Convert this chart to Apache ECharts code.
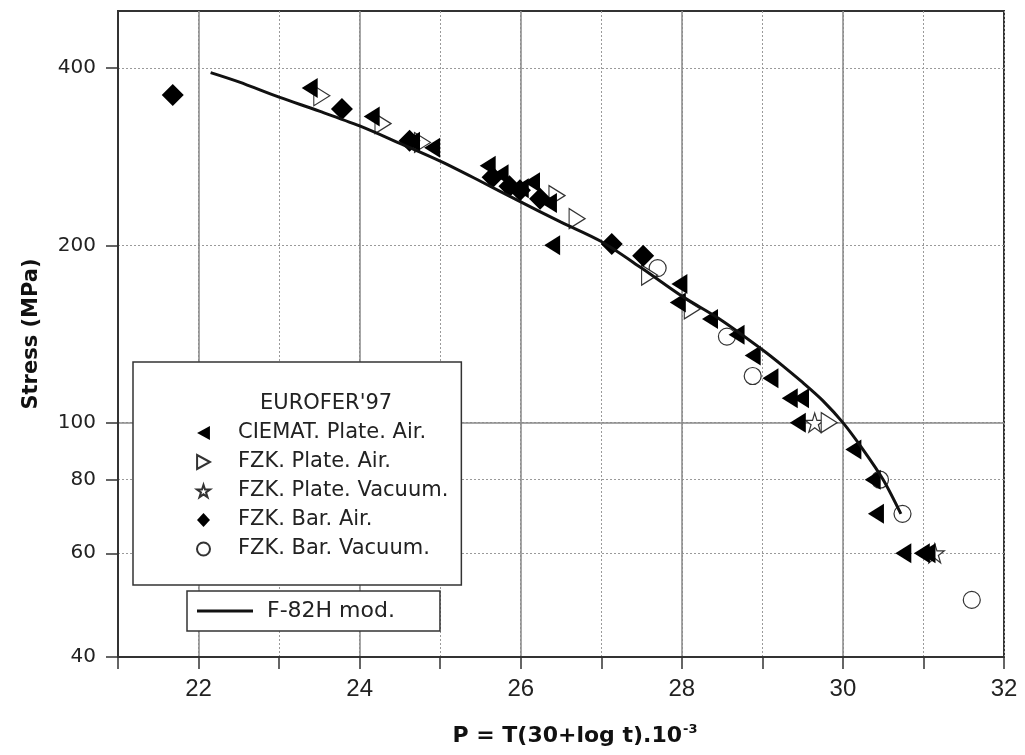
<!DOCTYPE html>
<html>
<head>
<meta charset="utf-8">
<title>Stress vs Larson-Miller parameter</title>
<script src="https://cdn.jsdelivr.net/npm/echarts@6/dist/echarts.min.js"></script>
<style>
  html, body { margin: 0; padding: 0; background: #fff; }
  #chart { width: 1025px; height: 755px; }
</style>
</head>
<body>
<div id="chart"></div>
<script>
// EUROFER'97 creep data, P = T(30+log t)*1e-3 vs stress (MPa)
const ciematP = [23.38, 24.15, 24.65, 24.9, 25.59, 25.75, 26.0, 26.14, 26.35, 26.39, 27.95, 27.97, 28.35, 28.68, 28.88, 29.1, 29.34, 29.48, 29.44, 30.13, 30.37, 30.41, 30.75, 30.98, 31.05]
const ciematS = [370, 331, 300, 293, 273, 264, 250, 256, 236, 200, 160, 172, 150, 141, 130, 119, 110, 110, 100, 90, 80, 70, 60, 60, 60]

const plateAirP = [23.53, 24.29, 24.78, 26.45, 26.7, 27.6, 28.13, 29.83]
const plateAirS = [359, 322, 299, 243, 222, 178, 156, 100]

const plateVacP = [29.65, 31.14]
const plateVacS = [100, 60]

const barAirP = [21.68, 23.78, 24.62, 25.65, 25.86, 25.99, 26.24, 27.13, 27.52]
const barAirS = [360, 341, 301, 261, 252, 248, 240, 201, 192]

const barVacP = [27.7, 28.56, 28.88, 30.46, 30.74, 31.6]
const barVacS = [183, 140, 120, 80, 70, 50]

// F-82H mod. master curve
const curveP = [22.15, 22.5, 23, 23.5, 24, 24.5, 25, 25.5, 26, 26.5, 27, 27.5, 28, 28.5, 29, 29.25, 29.5, 29.75, 30, 30.25, 30.5, 30.72]
const curveS = [393, 379, 357, 338, 319, 298, 278, 257, 237, 219, 203, 183, 164, 149, 133, 125, 117, 109, 100, 90, 80, 70]

const yTicks = [40, 60, 80, 100, 200, 400]
const xSolid = [22, 24, 26, 28, 30]

const pair = (xs, ys) => xs.map((x, i) => [x, ys[i]])

const FONT = 'DejaVu Sans'
const STAR = 'path://M50,2 L61,36 L97,36 L68,57 L79,92 L50,71 L21,92 L32,57 L3,36 L39,36 Z'
const TRI_LEFT = 'path://M0,6 L11,0 L11,12 Z'
const TRI_RIGHT = 'path://M11,6 L0,0 L0,12 Z'

const openStyle = { color: '#fff', borderColor: '#333', borderWidth: 1.2, opacity: 1 }
const solidStyle = { color: '#000', opacity: 1 }

const chart = echarts.init(document.getElementById('chart'), null, { renderer: 'canvas' })

chart.setOption({
  backgroundColor: '#fff',
  animation: false,
  grid: {
    left: 118,
    right: 21,
    top: 11,
    bottom: 98,
    show: true,
    borderColor: '#333',
    borderWidth: 2,
    backgroundColor: 'transparent'
  },
  xAxis: [
    {
      type: 'value',
      min: 21,
      max: 32,
      interval: 1,
      name: '{b|P = T(30+log t).10}{s|-3}',
      nameLocation: 'middle',
      nameGap: 66,
      nameTextStyle: {
        padding: [0, 0, 0, 28],
        rich: {
          b: { fontFamily: FONT, fontSize: 22, fontWeight: 'bold', color: '#111' },
          s: { fontFamily: FONT, fontSize: 13, fontWeight: 'bold', color: '#111', padding: [0, 0, 14, 1] }
        }
      },
      axisLine: { lineStyle: { color: '#333', width: 2 } },
      axisTick: { inside: false, length: 12, lineStyle: { color: '#333', width: 1.5 } },
      axisLabel: {
        margin: 20,
        fontFamily: 'Liberation Sans Narrow, Liberation Sans',
        fontSize: 24,
        color: '#222',
        formatter: (v) => (v % 2 === 0 ? String(v) : '')
      },
      splitLine: { show: true, lineStyle: { color: '#9a9a9a', width: 1, type: [2, 2] } }
    },
    {
      // solid grid lines at even values
      type: 'value',
      min: 21,
      max: 32,
      position: 'bottom',
      axisLine: { show: false },
      axisLabel: { show: false },
      axisTick: { show: false, customValues: xSolid },
      splitLine: { show: true, lineStyle: { color: '#888', width: 1.5 } }
    }
  ],
  yAxis: [
    {
      type: 'log',
      logBase: 10,
      min: 40,
      max: 500,
      name: 'Stress (MPa)',
      nameLocation: 'middle',
      nameGap: 76,
      nameTextStyle: { fontFamily: FONT, fontSize: 21, fontWeight: 'bold', color: '#111' },
      axisLine: { lineStyle: { color: '#333', width: 2 } },
      axisTick: { inside: false, length: 12, customValues: yTicks, lineStyle: { color: '#333', width: 1.5 } },
      axisLabel: {
        margin: 22,
        fontFamily: FONT,
        fontSize: 20,
        color: '#222',
        customValues: yTicks,
        formatter: (v) => String(Math.round(v))
      },
      splitLine: { show: true, lineStyle: { color: '#9a9a9a', width: 1, type: [2, 2] } }
    },
    {
      // solid grid line at 100 MPa
      type: 'log',
      logBase: 10,
      min: 40,
      max: 500,
      position: 'left',
      axisLine: { show: false },
      axisLabel: { show: false },
      axisTick: { show: false, customValues: [100] },
      splitLine: { show: true, lineStyle: { color: '#888', width: 1.5 } }
    }
  ],
  legend: [
    {
      orient: 'vertical',
      left: 133,
      top: 362,
      padding: [60, 13, 25, 63],
      itemWidth: 13,
      itemHeight: 14,
      itemGap: 7,
      backgroundColor: '#fff',
      borderColor: '#333',
      borderWidth: 1.5,
      textStyle: { fontFamily: FONT, fontSize: 21, color: '#222', lineHeight: 22, padding: [0, 0, 0, 23] },
      data: [
        { name: 'CIEMAT. Plate. Air.', icon: TRI_LEFT },
        { name: 'FZK. Plate. Air.', icon: TRI_RIGHT },
        { name: 'FZK. Plate. Vacuum.', icon: STAR },
        { name: 'FZK. Bar. Air.', icon: 'diamond' },
        { name: 'FZK. Bar. Vacuum.', icon: 'circle' }
      ]
    },
    {
      orient: 'vertical',
      left: 187,
      top: 591,
      padding: [9, 45, 9, 10],
      itemWidth: 56,
      itemHeight: 3,
      backgroundColor: '#fff',
      borderColor: '#333',
      borderWidth: 1.5,
      textStyle: { fontFamily: FONT, fontSize: 22, color: '#222', lineHeight: 22, padding: [0, 0, 0, 9] },
      data: [{ name: 'F-82H mod.', icon: 'rect' }]
    }
  ],
  graphic: [
    {
      type: 'text',
      z: 100,
      left: 260,
      top: 393,
      style: { text: "EUROFER'97", fontFamily: FONT, fontSize: 21, fill: '#222' }
    }
  ],
  series: [
    {
      name: 'F-82H mod.',
      type: 'line',
      smooth: 0.3,
      symbol: 'none',
      lineStyle: { color: '#111', width: 3 },
      itemStyle: { color: '#111' },
      data: pair(curveP, curveS),
      z: 3
    },
    {
      name: 'FZK. Bar. Vacuum.',
      type: 'scatter',
      symbol: 'circle',
      symbolSize: 17,
      itemStyle: openStyle,
      data: pair(barVacP, barVacS)
    },
    {
      name: 'FZK. Plate. Vacuum.',
      type: 'scatter',
      symbol: STAR,
      symbolSize: 19,
      itemStyle: openStyle,
      data: pair(plateVacP, plateVacS)
    },
    {
      name: 'FZK. Plate. Air.',
      type: 'scatter',
      symbol: 'triangle',
      symbolRotate: -90,
      symbolSize: [20, 16],
      itemStyle: openStyle,
      data: pair(plateAirP, plateAirS)
    },
    {
      name: 'FZK. Bar. Air.',
      type: 'scatter',
      symbol: 'diamond',
      symbolSize: 22,
      itemStyle: solidStyle,
      data: pair(barAirP, barAirS)
    },
    {
      name: 'CIEMAT. Plate. Air.',
      type: 'scatter',
      symbol: 'triangle',
      symbolRotate: 90,
      symbolSize: [20, 16],
      itemStyle: solidStyle,
      data: pair(ciematP, ciematS)
    }
  ]
})
</script>
</body>
</html>
